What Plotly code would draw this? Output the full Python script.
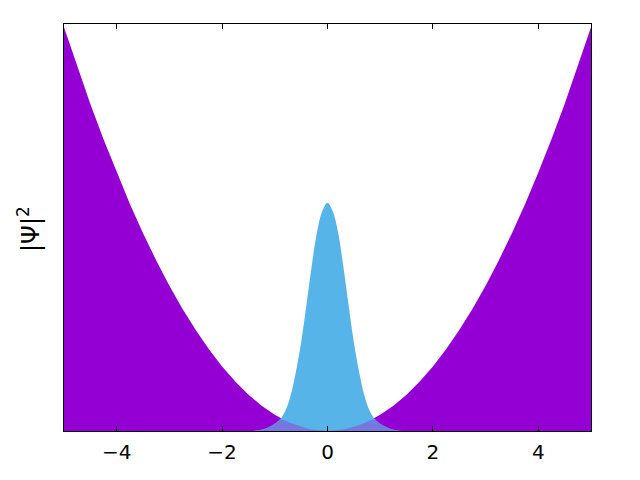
import numpy as np
import plotly.graph_objects as go

# Potential (purple), sampled every 0.25 from -5 to 5
pot_x = [-5.0, -4.75, -4.5, -4.25, -4.0, -3.75, -3.5, -3.25, -3.0, -2.75, -2.5, -2.25,
         -2.0, -1.75, -1.5, -1.25, -1.0, -0.75, -0.5, -0.25, 0.0, 0.25, 0.5, 0.75,
         1.0, 1.25, 1.5, 1.75, 2.0, 2.25, 2.5, 2.75, 3.0, 3.25, 3.5, 3.75, 4.0, 4.25,
         4.5, 4.75, 5.0]
pot_v = [25.0, 22.56, 20.25, 18.06, 16.0, 14.06, 12.25, 10.56, 9.0, 7.56, 6.25, 5.06,
         4.0, 3.06, 2.25, 1.56, 1.0, 0.56, 0.25, 0.06, 0.0, 0.06, 0.25, 0.56,
         1.0, 1.56, 2.25, 3.06, 4.0, 5.06, 6.25, 7.56, 9.0, 10.56, 12.25, 14.06, 16.0, 18.06,
         20.25, 22.56, 25.0]

# Probability density |psi|^2 (blue)
psi_x = [-1.4, -1.3, -1.2, -1.1, -1.0, -0.9, -0.8, -0.7, -0.6, -0.5, -0.4, -0.3, -0.2, -0.1,
         0.0, 0.1, 0.2, 0.3, 0.4, 0.5, 0.6, 0.7, 0.8, 0.9, 1.0, 1.1, 1.2, 1.3, 1.4]
psi_v = [0.0, 0.05, 0.13, 0.26, 0.45, 0.72, 1.25, 2.2, 3.66, 5.5, 7.8, 10.2, 12.3, 13.6,
         14.13, 13.6, 12.3, 10.2, 7.8, 5.5, 3.66, 2.2, 1.25, 0.72, 0.45, 0.26, 0.13, 0.05, 0.0]

tick_vals = [-4, -2, 0, 2, 4]
tick_text = ["\u22124", "\u22122", "0", "2", "4"]

purple = "#9400d3"
blue = "#56b4e9"
mix = "rgb(117,120,225)"

overlap_v = np.minimum(np.interp(psi_x, pot_x, pot_v), psi_v)

fig = go.Figure()
fig.add_trace(go.Scatter(x=pot_x, y=pot_v, mode="lines", fill="tozeroy",
                         fillcolor=purple, line=dict(width=0, color=purple)))
fig.add_trace(go.Scatter(x=psi_x, y=psi_v, mode="lines", fill="tozeroy",
                         fillcolor=blue, line=dict(width=0, color=blue, shape="spline")))
fig.add_trace(go.Scatter(x=psi_x, y=overlap_v, mode="lines", fill="tozeroy",
                         fillcolor=mix, line=dict(width=0, color=mix)))

# page has an 8px body margin: figure is placed at (8, 8)
L, T, R, B = 64, 24, 591, 431  # plot area in page pixels
fig.update_layout(
    width=632, height=472,
    margin=dict(l=L - 8, r=640 - R, t=T - 8, b=480 - B, autoexpand=False),
    paper_bgcolor="white", plot_bgcolor="white",
    showlegend=False,
    font=dict(family="DejaVu Sans", color="black", size=20),
    xaxis=dict(range=[-5, 5], tickvals=tick_vals, ticktext=tick_text,
               ticks="inside", ticklen=5, tickcolor="black", tickwidth=1,
               showline=True, linecolor="black", linewidth=1, mirror="ticks",
               showgrid=False, zeroline=False, ticklabelstandoff=3,
               tickfont=dict(size=20, family="DejaVu Sans")),
    yaxis=dict(range=[0, 25.2], showticklabels=False, ticks="",
               showline=True, linecolor="black", linewidth=1, mirror=True,
               showgrid=False, zeroline=False),
    annotations=[dict(text="|\u03a8|<sup>2</sup>",
                      x=(29 - L) / (R - L), y=(B - 229) / (B - T),
                      xref="paper", yref="paper",
                      showarrow=False, textangle=-90,
                      font=dict(size=24, family="DejaVu Sans", color="black"),
                      xanchor="center", yanchor="middle")],
)
fig.write_html("out.html")
